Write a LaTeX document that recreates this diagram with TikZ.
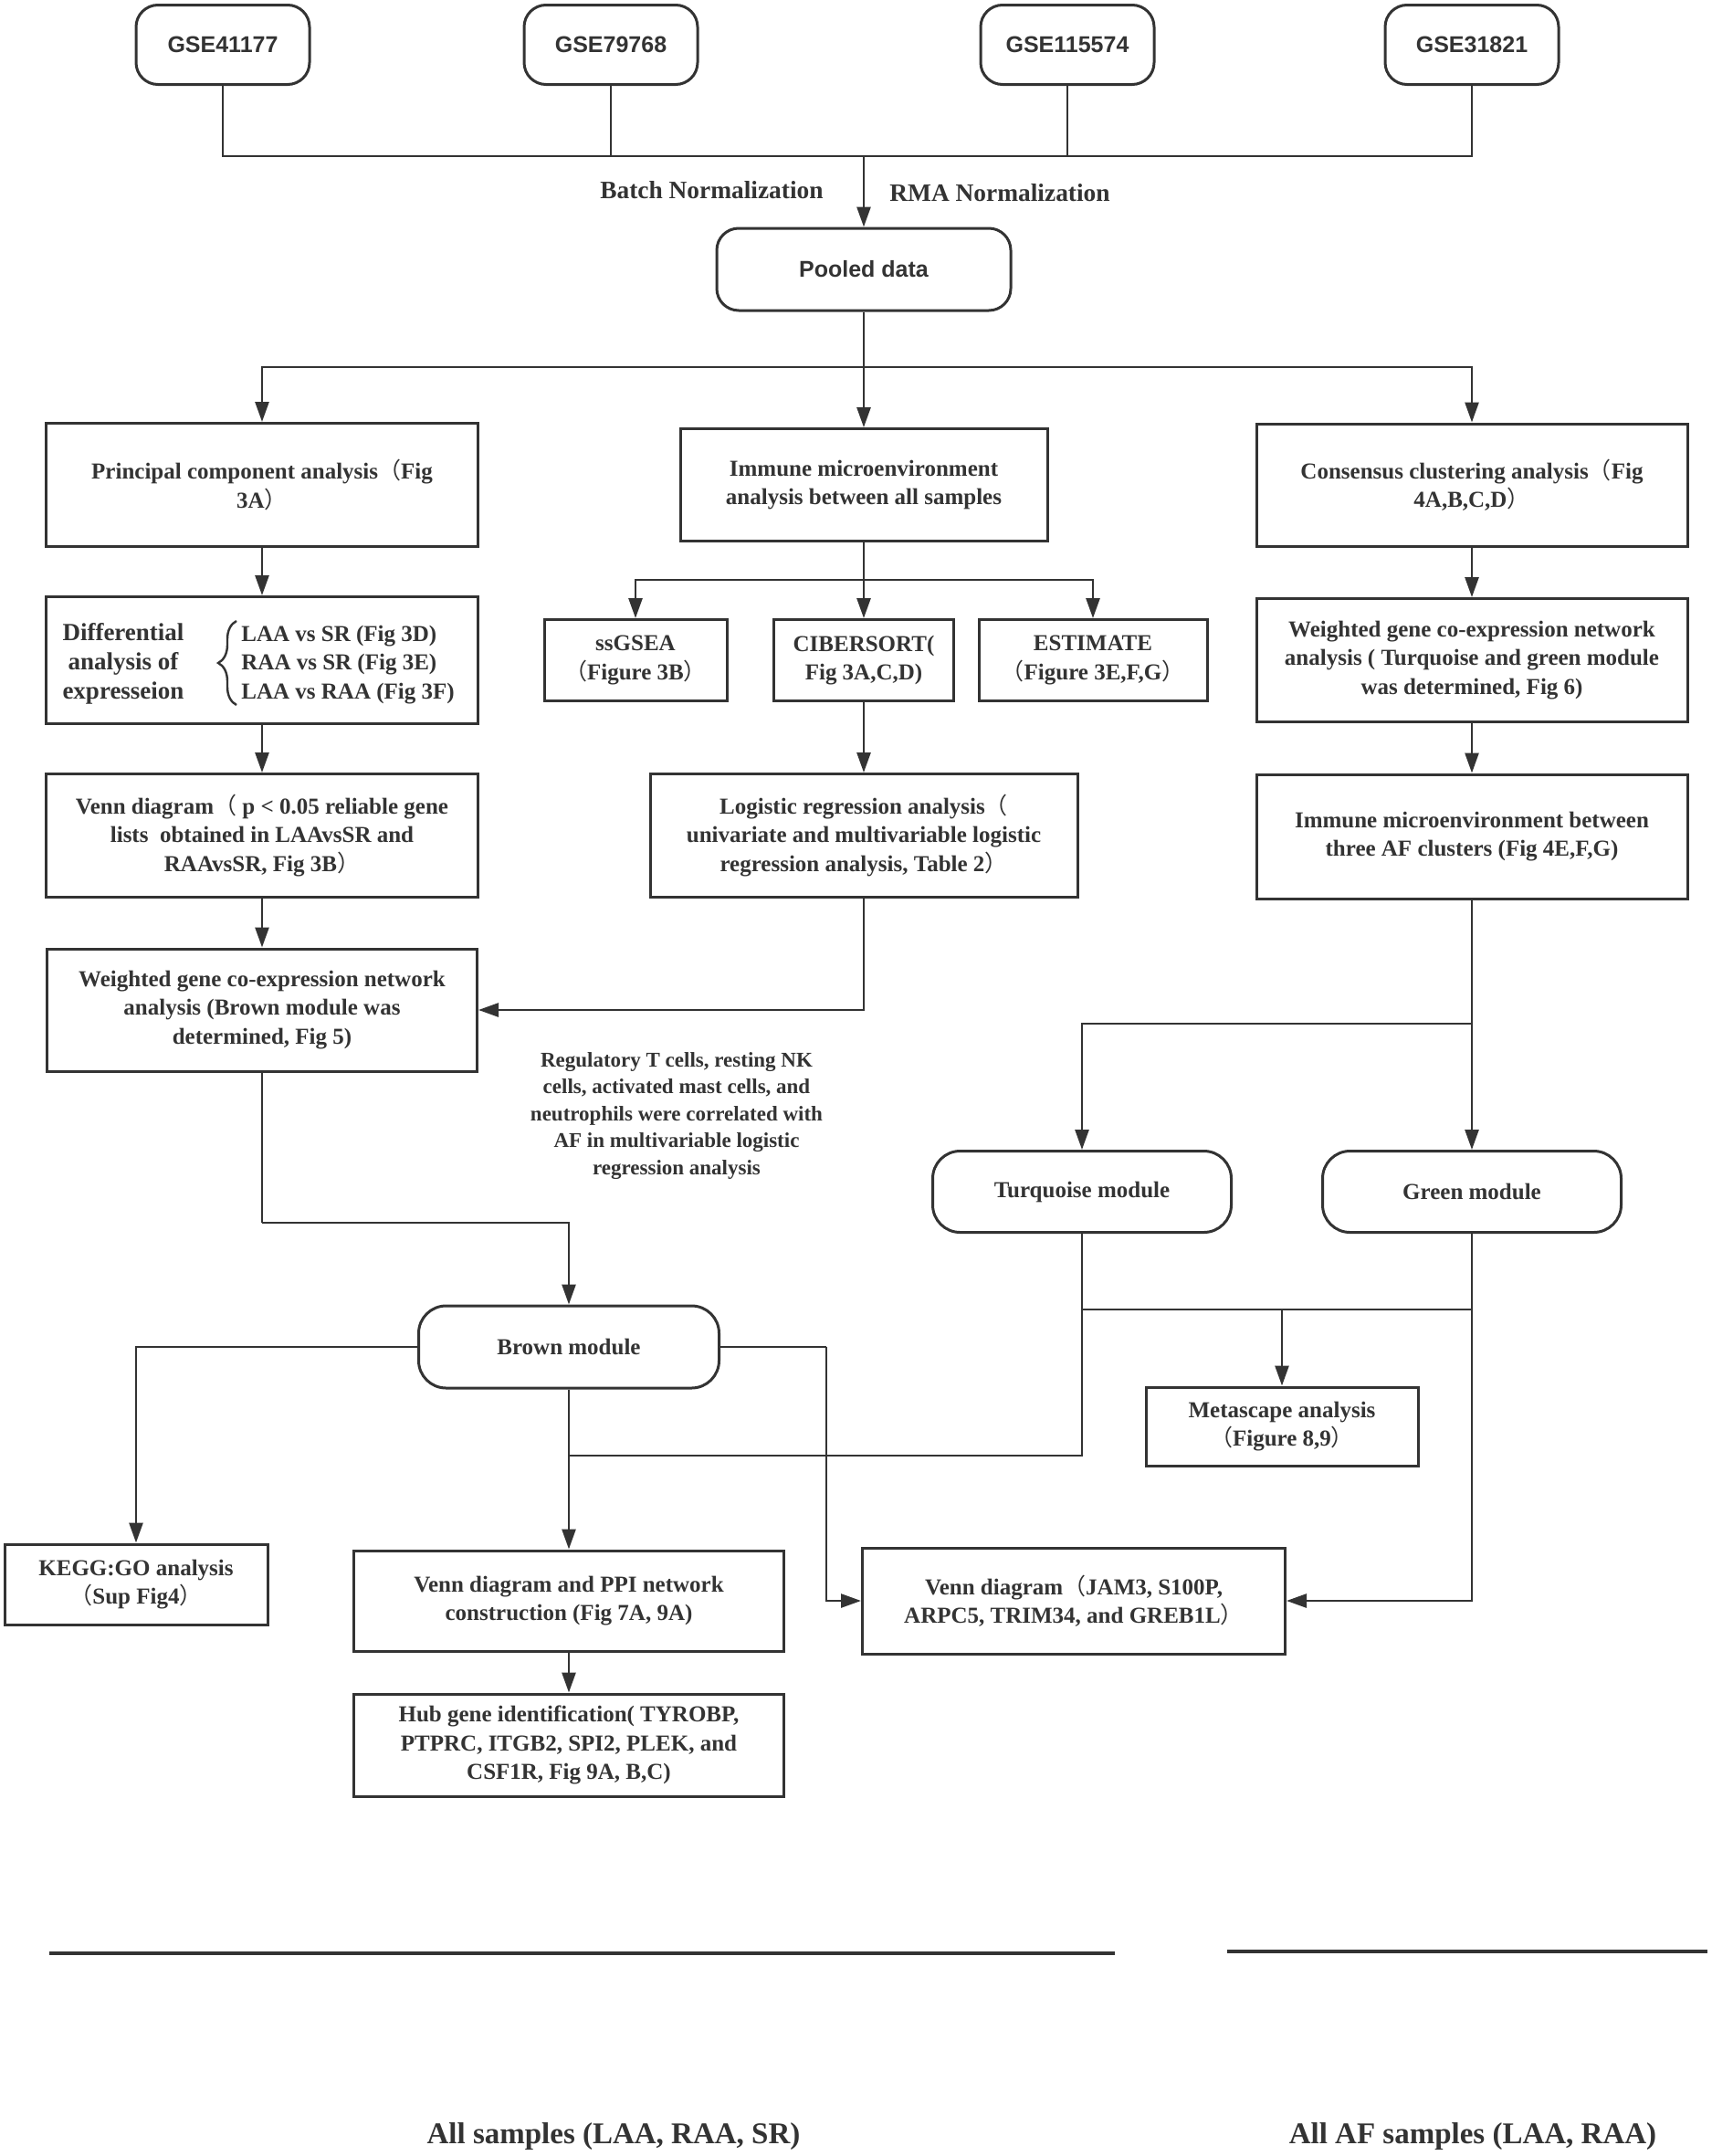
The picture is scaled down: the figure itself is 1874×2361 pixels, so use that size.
\documentclass[tikz,border=0pt]{standalone}
\usepackage{fontspec}
\setmainfont{Liberation Serif}
\newfontfamily\gsefont{Liberation Sans}
\newfontfamily\cjkfont{Noto Sans CJK SC}
\newcommand\lp{{\cjkfont\mdseries （}}
\newcommand\rp{{\cjkfont\mdseries ）}}
\usetikzlibrary{arrows.meta,decorations.pathreplacing}
\definecolor{ink}{HTML}{333333}
\tikzset{
  box/.style={draw=ink, line width=1.5pt, inner sep=0pt, align=center, text=ink,
    font=\fontsize{12.5}{15.6}\selectfont\bfseries},
  gsebox/.style={box, rounded corners=12pt, minimum width=95pt, minimum height=43.5pt,
    font=\fontsize{12.5}{15}\selectfont\gsefont\bfseries},
  modbox/.style={box, rounded corners=15pt},
  line/.style={draw=ink, line width=1.3pt},
  arr/.style={line, -{Triangle[length=11pt,width=7.5pt]}},
  lbl/.style={text=ink, inner sep=0pt, align=center},
}
\begin{document}
\begin{tikzpicture}[x=0.5pt,y=-0.5pt]
\useasboundingbox (0,0) rectangle (1874,2361);
% top sources
\node[gsebox] (g1) at (244,49) {GSE41177};
\node[gsebox] (g2) at (669,49) {GSE79768};
\node[gsebox] (g3) at (1169,49) {GSE115574};
\node[gsebox] (g4) at (1612,49) {GSE31821};
\coordinate (m1) at (946,171);
\node[gsebox, minimum width=161pt, minimum height=45pt] (pool) at (946,295) {Pooled data};
\node[lbl, anchor=east, font=\fontsize{13.7}{16}\selectfont\bfseries] (bn) at (902,208) {Batch Normalization};
\node[lbl, anchor=west, font=\fontsize{13.7}{16}\selectfont\bfseries] (rn) at (974,211) {RMA Normalization};
% row 1
\node[box, minimum width=236.5pt, minimum height=67.5pt] (pca) at (287,531) {Principal component analysis\lp Fig\\3A\rp};
\node[box, minimum width=201pt, minimum height=61.5pt] (imm) at (946,531) {Immune microenvironment\\analysis between all samples};
\node[box, minimum width=236pt, minimum height=67pt] (cons) at (1612,531) {Consensus clustering analysis\lp Fig\\4A,B,C,D\rp};
% row 2
\node[box, minimum width=236.5pt, minimum height=69.5pt] (diff) at (287,723) {};
\node[lbl, font=\fontsize{13.5}{16}\selectfont\bfseries] (difft) at (135,727) {Differential\\analysis of\\expresseion};
\node[lbl, anchor=west, align=left, font=\fontsize{12.5}{15.6}\selectfont\bfseries] (diffr) at (264,728) {LAA vs SR (Fig 3D)\\RAA vs SR (Fig 3E)\\LAA vs RAA (Fig 3F)};
\draw[line, line width=1.2pt, decoration={brace, amplitude=10pt}, decorate] (259,772) -- (259,680);
\node[box, minimum width=100pt, minimum height=44.5pt] (ssg) at (696,723) {ssGSEA\\\lp Figure 3B\rp};
\node[box, minimum width=98.5pt, minimum height=44.5pt] (cib) at (946,723) {CIBERSORT(\\Fig 3A,C,D)};
\node[box, minimum width=125pt, minimum height=44.5pt] (est) at (1197,723) {ESTIMATE\\\lp Figure 3E,F,G\rp};
\node[box, minimum width=236pt, minimum height=67.5pt] (wgtg) at (1612,723) {Weighted gene co-expression network\\analysis ( Turquoise and green module\\was determined, Fig 6)};
% row 3
\node[box, minimum width=236.5pt, minimum height=67.5pt] (venn1) at (287,915) {Venn diagram\lp\ p < 0.05 reliable gene\\lists\ \ obtained in LAAvsSR and\\RAAvsSR, Fig 3B\rp};
\node[box, minimum width=234pt, minimum height=67.5pt] (logit) at (946,915) {Logistic regression analysis\lp\\univariate and multivariable logistic\\regression analysis, Table 2\rp};
\node[box, minimum width=236pt, minimum height=68pt] (immaf) at (1612,916) {Immune microenvironment between\\three AF clusters (Fig 4E,F,G)};
% row 4
\node[box, minimum width=235.5pt, minimum height=67pt] (wgb) at (287,1106) {Weighted gene co-expression network\\analysis (Brown module was\\determined, Fig 5)};
\node[lbl, font=\fontsize{11.5}{14.75}\selectfont\bfseries] (note) at (741,1222) {Regulatory T cells, resting NK\\cells, activated mast cells, and\\neutrophils were correlated with\\AF in multivariable logistic\\regression analysis};
% modules
\node[modbox, minimum width=163.5pt, minimum height=44.5pt] (turq) at (1185,1305) {Turquoise module};
\node[modbox, minimum width=163.5pt, minimum height=44.5pt] (green) at (1612,1305) {Green module};
\node[modbox, minimum width=164.5pt, minimum height=45pt] (brown) at (623,1475) {Brown module};
\node[box, minimum width=149pt, minimum height=43pt] (meta) at (1404,1562) {Metascape analysis\\\lp Figure 8,9\rp};
% bottom boxes
\node[box, minimum width=144pt, minimum height=44pt] (kegg) at (149,1735) {KEGG:GO analysis\\\lp Sup Fig4\rp};
\node[box, minimum width=235.5pt, minimum height=55pt] (vppi) at (623,1753) {Venn diagram and PPI network\\construction (Fig 7A, 9A)};
\node[box, minimum width=235.5pt, minimum height=56pt] (hub) at (623,1911) {Hub gene identification( TYROBP,\\PTPRC, ITGB2, SPI2, PLEK, and\\CSF1R, Fig 9A, B,C)};
\node[box, minimum width=231.5pt, minimum height=58pt] (vjam) at (1176,1753) {Venn diagram\lp JAM3, S100P,\\ARPC5, TRIM34, and GREB1L\rp};
% footer
\coordinate (f1a) at (54,2139); \coordinate (f1b) at (1221,2139);
\coordinate (f2a) at (1344,2137); \coordinate (f2b) at (1870,2137);
\draw[line, line width=1.9pt] (f1a) -- (f1b);
\draw[line, line width=1.9pt] (f2a) -- (f2b);
\node[lbl, font=\fontsize{16.5}{19}\selectfont\bfseries] (all1) at (672,2340) {All samples (LAA, RAA, SR)};
\node[lbl, font=\fontsize{16.5}{19}\selectfont\bfseries] (all2) at (1613,2340) {All AF samples (LAA, RAA)};
% connectors: top merge
\draw[line] (g1.south) |- (m1);
\draw[line] (g4.south) |- (m1);
\draw[line] (g2.south) -- (g2.south |- m1);
\draw[line] (g3.south) -- (g3.south |- m1);
\draw[arr] (m1) -- (pool.north);
% pooled split
\coordinate (m2) at (946,402);
\draw[line] (pool.south) -- (m2);
\draw[arr] (m2) -| (pca.north);
\draw[arr] (m2) -| (cons.north);
\draw[arr] (m2) -- (imm.north);
% immune split
\coordinate (m3) at (946,635);
\draw[line] (imm.south) -- (m3);
\draw[arr] (m3) -| (ssg.north);
\draw[arr] (m3) -| (est.north);
\draw[arr] (m3) -- (cib.north);
% left column
\draw[arr] (pca.south) -- (diff.north);
\draw[arr] (diff.south) -- (venn1.north);
\draw[arr] (venn1.south) -- (wgb.north);
\draw[arr] (cib.south) -- (logit.north);
\draw[arr] (logit.south) |- (wgb.east);
% right column
\draw[arr] (cons.south) -- (wgtg.north);
\draw[arr] (wgtg.south) -- (immaf.north);
\draw[arr] (immaf.south) -- (green.north);
\coordinate (m5) at (1612,1121);
\draw[arr] (m5) -| (turq.north);
% module merges
\coordinate (m6) at (1404,1434);
\draw[line] (turq.south) |- (m6);
\draw[line] (green.south) |- (m6);
\draw[arr] (m6) -- (meta.north);
\coordinate (m7) at (623,1594);
\draw[line] (turq.south) |- (m7);
\draw[arr] (green.south) |- (vjam.east);
% brown
\coordinate (m8) at (287,1339);
\draw[line] (wgb.south) -- (m8);
\draw[arr] (m8) -| (brown.north);
\draw[arr] (brown.west) -| (kegg.north);
\draw[arr] (brown.south) -- (vppi.north);
\coordinate (m9) at (905,1475);
\draw[line] (brown.east) -- (m9);
\draw[arr] (m9) |- (vjam.west);
\draw[arr] (vppi.south) -- (hub.north);
\end{tikzpicture}
\end{document}
